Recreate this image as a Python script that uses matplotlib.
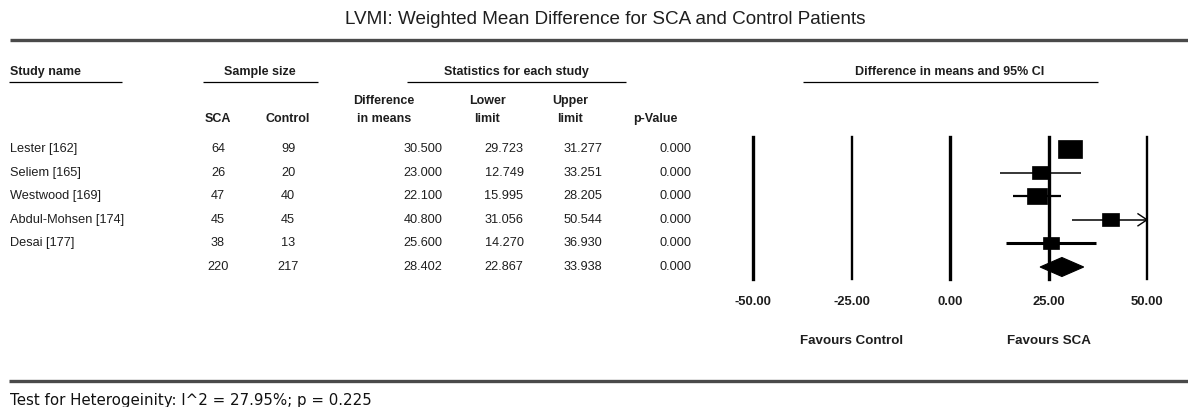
import matplotlib
matplotlib.use("Agg")
import matplotlib.pyplot as plt
from matplotlib.patches import Rectangle, Polygon
from matplotlib.transforms import blended_transform_factory
import numpy as np

# ---- data ---------------------------------------------------------------
studies = ["Lester [162]", "Seliem [165]", "Westwood [169]",
           "Abdul-Mohsen [174]", "Desai [177]"]
n_sca = [64, 26, 47, 45, 38]
n_control = [99, 20, 40, 45, 13]
diff = [30.500, 23.000, 22.100, 40.800, 25.600]
lower = [29.723, 12.749, 15.995, 31.056, 14.270]
upper = [31.277, 33.251, 28.205, 50.544, 36.930]
p_values = [0.000, 0.000, 0.000, 0.000, 0.000]
rel_weight = [31.9, 15.3, 23.1, 16.1, 13.7]   # random-effects weights (%)

total_sca = 220
total_control = 217
pooled_diff = 28.402
pooled_lower = 22.867
pooled_upper = 33.938
pooled_p = 0.000

axis_ticks = [-50, -25, 0, 25, 50]
axis_min, axis_max = -50, 50

title = "LVMI: Weighted Mean Difference for SCA and Control Patients"
heterogeneity = "Test for Heterogeinity: I^2 = 27.95%; p = 0.225"

# ---- layout -------------------------------------------------------------
W, H = 1188, 407
fig = plt.figure(figsize=(W / 100, H / 100), dpi=100)
fig.patch.set_facecolor("white")

SANS = ["Liberation Sans", "DejaVu Sans"]
TXT = "#1e1e1e"

canvas = fig.add_axes([0, 0, 1, 1])
canvas.set_xlim(0, W)
canvas.set_ylim(H, 0)
canvas.axis("off")

# forest panel: x in effect units, y in row index
fx0, fx1 = 753, 1147
fy_top, fy_bot = 137.2, 278.8
forest = fig.add_axes([fx0 / W, 1 - fy_bot / H, (fx1 - fx0) / W, (fy_bot - fy_top) / H])
n_rows = len(studies) + 1
forest.set_xlim(axis_min, axis_max)
forest.set_ylim(n_rows - 0.5, -0.5)
forest.patch.set_alpha(0)
for s in forest.spines.values():
    s.set_visible(False)
forest.set_yticks([])
forest.set_xticks(axis_ticks)
forest.set_xticklabels([f"{t:.2f}" for t in axis_ticks],
                       fontfamily=SANS, fontweight="bold", fontsize=9.4, color=TXT)
forest.tick_params(axis="x", length=0, pad=12.5)

px_x = (axis_max - axis_min) / (fx1 - fx0)         # data units per pixel
px_y = n_rows / (fy_bot - fy_top)                  # rows per pixel

grid_lw = [2.4, 1.7, 2.4, 2.4, 1.7]
for t, lw in zip(axis_ticks, grid_lw):
    forest.axvline(t, color="black", lw=lw, zorder=1, clip_on=False)

ci_lw = [1.0, 1.1, 1.6, 1.1, 2.2]
for i in range(len(studies)):
    hi = min(upper[i], axis_max)
    forest.plot([lower[i], hi], [i, i], color="black", lw=ci_lw[i],
                solid_capstyle="butt", zorder=2, clip_on=False)
    if upper[i] > axis_max:
        forest.plot([axis_max - 9 * px_x, axis_max, axis_max - 9 * px_x],
                    [i - 6 * px_y, i, i + 6 * px_y],
                    color="black", lw=1.0, zorder=2, clip_on=False)
    w_px = 4.3 * np.sqrt(rel_weight[i])
    h_px = 0.75 * w_px
    forest.add_patch(Rectangle((diff[i] - w_px * px_x / 2, i - h_px * px_y / 2),
                               w_px * px_x, h_px * px_y,
                               facecolor="black", edgecolor="black", lw=0.5,
                               zorder=3, clip_on=False))

pr = len(studies)
half_h = 9.5 * px_y
forest.add_patch(Polygon([[pooled_lower, pr], [pooled_diff, pr - half_h],
                          [pooled_upper, pr], [pooled_diff, pr + half_h]],
                         closed=True, facecolor="black", edgecolor="black",
                         lw=0.8, zorder=3, clip_on=False))

fav_tr = blended_transform_factory(forest.transData, canvas.transData)
forest.text(-25, 341, "Favours Control", transform=fav_tr, ha="center", va="center",
            fontfamily=SANS, fontweight="bold", fontsize=9.6, color=TXT)
forest.text(25, 341, "Favours SCA", transform=fav_tr, ha="center", va="center",
            fontfamily=SANS, fontweight="bold", fontsize=9.6, color=TXT)

# ---- title and rules ----------------------------------------------------
canvas.text(605, 20, title, ha="center", va="center", fontfamily=SANS,
            fontsize=13.6, color=TXT)
canvas.plot([10, W], [39.5, 39.5], color="#4a4a4a", lw=2.4, solid_capstyle="butt")
canvas.plot([9, W], [381, 381], color="#4a4a4a", lw=2.4, solid_capstyle="butt")
canvas.text(10, 401, heterogeneity, ha="left", va="center",
            fontfamily=["DejaVu Sans"], fontsize=10.8, fontweight="medium",
            color="#111111")

# ---- column headers -----------------------------------------------------
hdr = dict(fontfamily=SANS, fontweight="bold", fontsize=9, color=TXT, va="center")
canvas.text(10, 72, "Study name", ha="left", **hdr)
canvas.text(260, 72, "Sample size", ha="center", **hdr)
canvas.text(516, 72, "Statistics for each study", ha="center", **hdr)
canvas.text(950, 72, "Difference in means and 95% CI", ha="center", **hdr)
for x0, x1 in [(9, 122), (203, 318), (407, 626), (803, 1098)]:
    canvas.plot([x0, x1], [81.5, 81.5], color="black", lw=0.9, solid_capstyle="butt")

canvas.text(384, 101, "Difference", ha="center", **hdr)
canvas.text(384, 119, "in means", ha="center", **hdr)
canvas.text(487, 101, "Lower", ha="center", **hdr)
canvas.text(487, 119, "limit", ha="center", **hdr)
canvas.text(570, 101, "Upper", ha="center", **hdr)
canvas.text(570, 119, "limit", ha="center", **hdr)
canvas.text(218, 119, "SCA", ha="center", **hdr)
canvas.text(288, 119, "Control", ha="center", **hdr)
canvas.text(655, 119, "p-Value", ha="center", **hdr)

# ---- table body ---------------------------------------------------------
row_tr = blended_transform_factory(canvas.transData, forest.transData)
body = dict(fontfamily=SANS, fontsize=9.2, color=TXT, va="center", transform=row_tr)
rows = list(zip(studies, n_sca, n_control, diff, lower, upper, p_values))
rows.append(("", total_sca, total_control, pooled_diff, pooled_lower, pooled_upper, pooled_p))
for i, (name, a, b, d, lo, up, p) in enumerate(rows):
    canvas.text(10, i, name, ha="left", **body)
    canvas.text(218, i, f"{a}", ha="center", **body)
    canvas.text(288, i, f"{b}", ha="center", **body)
    canvas.text(423, i, f"{d:.3f}", ha="center", **body)
    canvas.text(504, i, f"{lo:.3f}", ha="center", **body)
    canvas.text(583, i, f"{up:.3f}", ha="center", **body)
    canvas.text(676, i, f"{p:.3f}", ha="center", **body)

fig.savefig("out.png", dpi=100)
